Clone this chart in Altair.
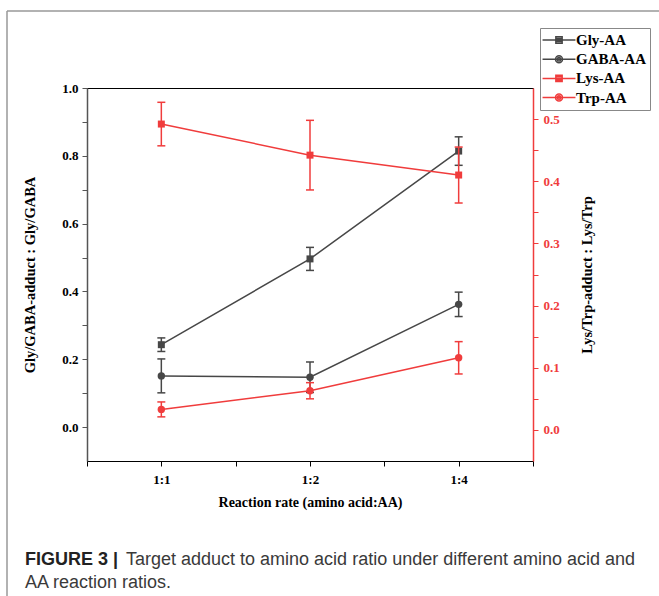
import altair as alt
import pandas as pd

# ---------------- data ----------------
categories = ["1:1", "1:2", "1:4"]
series_names = ["Gly-AA", "GABA-AA", "Lys-AA", "Trp-AA"]

gly = [0.243, 0.496, 0.814]
gly_err = [0.020, 0.034, 0.042]
gaba = [0.151, 0.147, 0.362]
gaba_err = [0.050, 0.045, 0.036]
lys = [0.492, 0.442, 0.410]
lys_err = [0.035, 0.056, 0.045]
trp = [0.033, 0.063, 0.116]
trp_err = [0.012, 0.013, 0.026]

left_series = {"Gly-AA": (gly, gly_err), "GABA-AA": (gaba, gaba_err)}
right_series = {"Lys-AA": (lys, lys_err), "Trp-AA": (trp, trp_err)}
square_series = ["Gly-AA", "Lys-AA"]

caption_bold = "FIGURE 3 |"
caption_line1 = "Target adduct to amino acid ratio under different amino acid and"
caption_line2 = "AA reaction ratios."


def frame(series):
    rows = []
    for name, (vals, errs) in series.items():
        for i, (c, v, e) in enumerate(zip(categories, vals, errs)):
            rows.append({"series": name, "cat": c, "pos": i + 1, "value": v,
                         "lo": v - e, "hi": v + e})
    return pd.DataFrame(rows)


left_df = frame(left_series)
right_df = frame(right_series)
legend_df = pd.DataFrame({"series": series_names})

GRAY = "#474747"
RED = "#f03c3c"
SERIF = "Liberation Serif"

label_list = "[" + ",".join("'" + c + "'" for c in categories) + "]"
x_label_expr = "datum.value % 1 == 0 ? " + label_list + "[datum.value - 1] : ''"
x_scale = alt.Scale(domain=[0.5, 3.5], nice=False, zero=False)
x_axis = alt.Axis(
    values=[0.5, 1, 1.5, 2, 2.5, 3, 3.5],
    labelExpr=x_label_expr,
    title="Reaction rate (amino acid:AA)",
    grid=False, domainColor="black", tickColor="black",
    tickSize=5, labelPadding=7, titlePadding=9, labelOverlap=False,
    labelFont=SERIF, labelFontWeight="bold", labelFontSize=13,
    labelColor="black", titleFont=SERIF, titleFontWeight="bold",
    titleFontSize=14, titleColor="black", labelAngle=0,
)


def layer_for(df, y_scale, y_axis, color):
    base = alt.Chart(df)
    xe = alt.X("pos:Q", scale=x_scale, axis=x_axis)
    line = base.mark_line(strokeWidth=1.5, color=color).encode(
        x=xe, y=alt.Y("value:Q", scale=y_scale, axis=y_axis), detail="series:N")
    rules = base.mark_rule(strokeWidth=1.5, color=color).encode(
        x=xe, y=alt.Y("lo:Q", scale=y_scale, axis=y_axis), y2="hi:Q")
    cap_lo = base.mark_tick(orient="horizontal", size=8, thickness=1.5, opacity=1, color=color).encode(
        x=xe, y=alt.Y("lo:Q", scale=y_scale, axis=y_axis))
    cap_hi = base.mark_tick(orient="horizontal", size=8, thickness=1.5, opacity=1, color=color).encode(
        x=xe, y=alt.Y("hi:Q", scale=y_scale, axis=y_axis))
    sq = base.transform_filter(
        alt.FieldOneOfPredicate(field="series", oneOf=square_series)
    ).mark_square(size=49, opacity=1, color=color).encode(
        x=xe, y=alt.Y("value:Q", scale=y_scale, axis=y_axis))
    ci = base.transform_filter(
        {"not": alt.FieldOneOfPredicate(field="series", oneOf=square_series)}
    ).mark_circle(size=55, opacity=1, color=color).encode(
        x=xe, y=alt.Y("value:Q", scale=y_scale, axis=y_axis))
    return [line, rules, cap_lo, cap_hi, sq, ci]


left_scale = alt.Scale(domain=[-0.1, 1.0], nice=False, zero=False)
left_axis = alt.Axis(
    orient="left",
    values=[round(0.1 * i, 2) for i in range(11)],
    labelExpr="abs(datum.value * 5 - round(datum.value * 5)) < 0.001 ? format(datum.value, '.1f') : ''",
    title="Gly/GABA-adduct : Gly/GABA", labelOverlap=False,
    grid=False, domainColor="#555555", tickColor="#555555", domainWidth=1.5,
    tickSize=5, labelPadding=4, titlePadding=24,
    labelFont=SERIF, labelFontWeight="bold", labelFontSize=13, labelColor="black",
    titleFont=SERIF, titleFontWeight="bold", titleFontSize=14.5, titleColor="black",
)
right_scale = alt.Scale(domain=[-0.05, 0.55], nice=False, zero=False)
right_axis = alt.Axis(
    orient="right",
    values=[round(0.05 * i, 2) for i in range(11)],
    labelExpr="abs(datum.value * 10 - round(datum.value * 10)) < 0.001 ? format(datum.value, '.1f') : ''",
    title="Lys/Trp-adduct : Lys/Trp", labelOverlap=False,
    grid=False, domainColor=RED, tickColor=RED, domainWidth=1.5,
    tickSize=5, labelPadding=5, titlePadding=35, titleAngle=270,
    labelFont=SERIF, labelFontWeight="bold", labelFontSize=13, labelColor=RED,
    titleFont=SERIF, titleFontWeight="bold", titleFontSize=14.5, titleColor="black",
)

# legend: symbols = line + marker (marker filled by hatch strokes)
sq_path = ("M-2.35,0H2.35M-0.45,-0.45H0.45V0.45H-0.45Z"
           "M-0.45,-0.22H0.45M-0.45,0.22H0.45")
ci_path = ("M-2.35,0H2.35M0.5,0A0.5,0.5,0,1,1,-0.5,0A0.5,0.5,0,1,1,0.5,0Z"
           "M0.25,0A0.25,0.25,0,1,1,-0.25,0A0.25,0.25,0,1,1,0.25,0Z")
legend_def = alt.Legend(
    title=None, orient="none", legendX=453, legendY=-60, direction="vertical",
    symbolSize=196, symbolStrokeWidth=1.5, symbolOpacity=1,
    symbolOffset=7, labelOffset=9, rowPadding=3.2,
    labelFont=SERIF, labelFontWeight="bold", labelFontSize=15, labelColor="black",
    strokeColor="#888888", fillColor="white", padding=4, cornerRadius=0,
)
legend_layer = alt.Chart(legend_df).transform_filter("false").mark_point(
    filled=False, strokeWidth=1.5, opacity=1
).encode(
    x=alt.value(-1000), y=alt.value(-1000),
    color=alt.Color("series:N", scale=alt.Scale(domain=series_names, range=[GRAY, GRAY, RED, RED]), legend=legend_def),
    shape=alt.Shape("series:N", scale=alt.Scale(domain=series_names, range=[sq_path, ci_path, sq_path, ci_path]), legend=legend_def),
)

# caption and frame decoration
cap_df = pd.DataFrame({"t": [caption_bold]})
cap_b = alt.Chart(cap_df).mark_text(
    align="left", baseline="alphabetic", font="Liberation Sans", fontWeight="bold",
    fontSize=18, color="#222222"
).encode(x=alt.value(-62), y=alt.value(477), text=alt.value(caption_bold))
cap_1 = alt.Chart(cap_df).mark_text(
    align="left", baseline="alphabetic", font="Liberation Sans", fontSize=18, color="#3a3a3a"
).encode(x=alt.value(39), y=alt.value(477), text=alt.value(caption_line1))
cap_2 = alt.Chart(cap_df).mark_text(
    align="left", baseline="alphabetic", font="Liberation Sans", fontSize=18, color="#3a3a3a"
).encode(x=alt.value(-62), y=alt.value(500), text=alt.value(caption_line2))
frame_left = alt.Chart(cap_df).mark_rule(color="#999999", strokeWidth=1.5).encode(
    x=alt.value(-80), y=alt.value(-77), y2=alt.value(508))
frame_top = alt.Chart(cap_df).mark_rule(color="#999999", strokeWidth=1.5).encode(
    x=alt.value(-80), x2=alt.value(572), y=alt.value(-77))

left_layer = alt.layer(*layer_for(left_df, left_scale, left_axis, GRAY))
right_layer = alt.layer(*layer_for(right_df, right_scale, right_axis, RED))

chart = alt.layer(
    left_layer, right_layer, legend_layer, cap_b, cap_1, cap_2, frame_left, frame_top
).resolve_scale(y="independent").properties(
    width=446, height=373,
    background="white",
    autosize=alt.AutoSizeParams(type="none"),
    padding={"left": 87, "top": 88, "right": 126, "bottom": 135},
).configure_view(stroke="black", strokeWidth=1)

chart.save("out.html", embed_options={"renderer": "svg", "actions": False})
